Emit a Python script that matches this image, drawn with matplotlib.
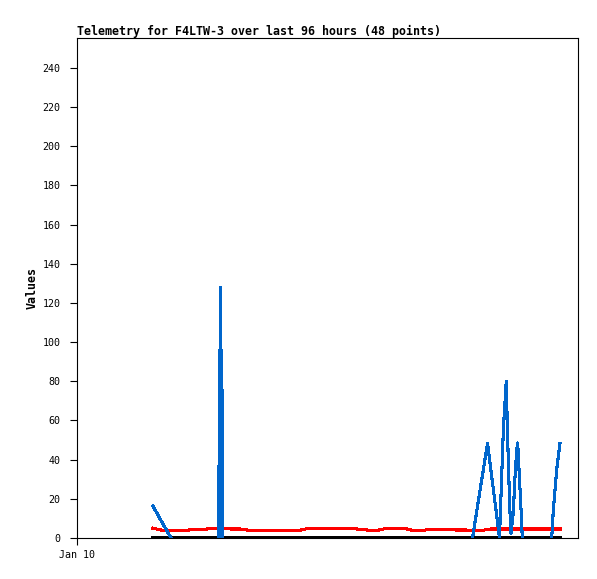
import numpy as np
import matplotlib
matplotlib.use("Agg")
import matplotlib.pyplot as plt

# ---- data (hours since Jan 10 00:00) ----
title = "Telemetry for F4LTW-3 over last 96 hours (48 points)"
y_label = "Values"
x_tick_hours = [0]
x_tick_labels = ["Jan 10"]
y_ticks = [0, 20, 40, 60, 80, 100, 120, 140, 160, 180, 200, 220, 240]

sample_start_hour = 17.90
sample_end_hour = 113.76
n_points = 48

red_values = [5, 4, 4, 4, 4, 4.5, 4.5, 5, 5, 4.6, 4.6, 4, 4, 4, 4, 4, 4, 4,
              5, 5, 5, 5, 5, 5, 4.3, 4, 4, 5, 5, 5, 3.8, 3.8, 4.4, 4.5, 4.5,
              4.1, 4.1, 3.9, 3.9, 4.6, 4.6, 4.6, 4.6, 4.6, 4.6, 4.6, 4.6, 4.6]
black_values = [0] * 48

blue_hours = [17.90, 20.02, 22.14, np.nan,
              33.45, 33.45, 33.59, 33.75, 33.85, 33.92, 34.08, 34.27, 34.29, np.nan,
              93.15, 96.69, 99.51, 100.41, 101.09, 101.44, 101.75, 101.98, 102.22,
              102.76, 103.16, 103.56, 103.80, 104.10, 104.51, 104.88, np.nan,
              111.81, 112.18, 112.98, 113.76]
blue_values = [16.3, 8, 0, np.nan,
               0, 35, 96, 35, 128, 35, 96, 35, 0, np.nan,
               0, 48.4, 0, 55, 80, 50, 28, 13, 2.5,
               13, 31, 45, 48.5, 35, 18, 0, np.nan,
               0, 14, 35, 48.4]

sample_hours = np.linspace(sample_start_hour, sample_end_hour, n_points)

W, H = 597, 579
fig = plt.figure(figsize=(W / 100, H / 100), dpi=100)
ax = fig.add_axes([77 / W, (H - 538) / H, (578 - 77) / W, (538 - 38) / H])

mono = ["DejaVu Sans Mono"]

ax.plot(sample_hours, red_values, color="#ff0000", lw=1.5, antialiased=False, zorder=2,
        drawstyle="default")
ax.plot(sample_hours, black_values, color="#000000", lw=1.5, antialiased=False, zorder=3)
ax.plot(blue_hours, blue_values, color="#0066cc", lw=1.5, antialiased=False, zorder=4)

ax.set_xlim(0, 118)
ax.set_ylim(0, 255.3)

ax.set_yticks(y_ticks)
ax.set_yticklabels([str(v) for v in y_ticks], family=mono, fontsize=7.2)
ax.set_xticks(x_tick_hours)
ax.set_xticklabels(x_tick_labels, family=mono, fontsize=7.2)
ax.tick_params(axis="both", direction="out", length=5, width=0.8, color="black",
               top=False, right=False)
ax.tick_params(axis="y", pad=7)
ax.tick_params(axis="x", pad=4)

for s in ax.spines.values():
    s.set_linewidth(0.8)
    s.set_color("black")

fig.text(77 / W, 1 - 31 / H, title, family=mono, fontweight="bold", fontsize=8.4,
         ha="left", va="center")
fig.text(32 / W, 1 - 288 / H, y_label, family=mono, fontweight="bold", fontsize=8.4,
         ha="center", va="center", rotation=90)

fig.savefig("out.png", dpi=100)
